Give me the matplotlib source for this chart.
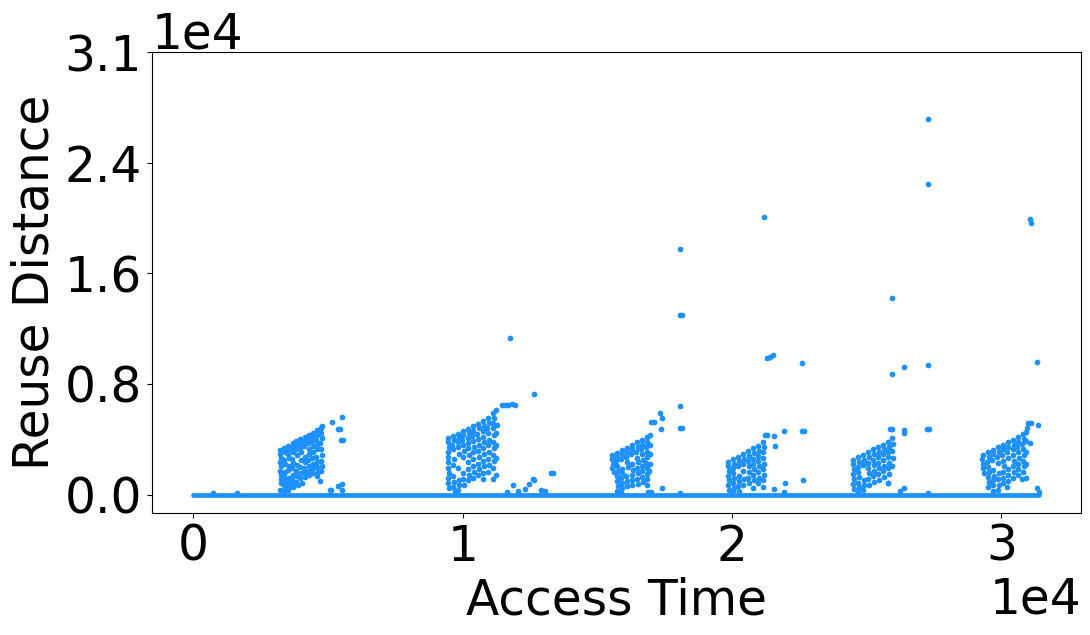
import numpy as np
import matplotlib
matplotlib.use("Agg")
import matplotlib.pyplot as plt
from matplotlib.ticker import ScalarFormatter

# Points: (access time, reuse distance)
# the long run of reuse distance ~0 along the whole trace
baseline_x = [0, 31400]
baseline_y = [0, 0]

# six dense "parallelogram" bursts
burst_1 = [
    (3230, 3150), (3210, 2870), (3240, 2600), (3220, 2300), (3250, 2000), (3230, 1700),
    (3260, 1400), (3240, 1100), (3270, 800), (3230, 300),
    (3380, 3320), (3400, 3050), (3370, 2450), (3410, 2150), (3390, 1600), (3360, 1300),
    (3420, 1000), (3380, 700), (3400, 420), (3350, 250),
    (3530, 3480), (3550, 3200), (3520, 2900), (3560, 2600), (3540, 2000), (3510, 1750),
    (3570, 1150), (3530, 850), (3550, 550), (3520, 300),
    (3690, 3650), (3670, 3350), (3700, 3050), (3660, 2500), (3710, 2250), (3680, 1900),
    (3700, 1400), (3670, 1100), (3690, 800), (3710, 500),
    (3830, 3800), (3850, 3500), (3810, 3200), (3840, 2800), (3860, 2100), (3820, 1700),
    (3850, 1350), (3830, 900), (3870, 650),
    (3980, 3950), (4000, 3650), (3960, 3300), (4010, 3000), (3990, 2450), (3970, 1950),
    (4000, 1500), (3980, 1150), (4020, 850),
    (4130, 4100), (4150, 3800), (4110, 3450), (4140, 2700), (4160, 2300), (4120, 1900),
    (4150, 1600), (4130, 1250),
    (4280, 4250), (4300, 3950), (4270, 3650), (4310, 3200), (4290, 2850), (4260, 2450),
    (4300, 2050), (4280, 1650), (4310, 1400),
    (4430, 4400), (4450, 4100), (4420, 3800), (4460, 3450), (4440, 3000), (4410, 2600),
    (4450, 2200), (4430, 1850), (4460, 1500),
    (4580, 4550), (4600, 4250), (4570, 3900), (4610, 3550), (4590, 3200), (4560, 2700),
    (4600, 2300), (4580, 1950), (4620, 1600), (4590, 1350),
    (4730, 4750), (4760, 4850), (4740, 4400), (4770, 4000), (4720, 3650), (4750, 3200),
    (4780, 2800), (4740, 2400), (4760, 2000), (4730, 1700), (4700, 950),
]
burst_2 = [
    (9460, 4000), (9440, 3700), (9480, 3400), (9450, 3050), (9470, 2700), (9440, 2300),
    (9460, 1900), (9490, 1500), (9450, 1150), (9470, 800), (9500, 450),
    (9640, 4150), (9660, 3850), (9620, 3500), (9650, 3200), (9670, 2500), (9630, 2100),
    (9650, 1300), (9680, 900), (9640, 550), (9700, 250),
    (9830, 4300), (9850, 4000), (9810, 3700), (9840, 3350), (9860, 2900), (9820, 1900),
    (9850, 1000), (9870, 650), (9830, 350),
    (10010, 4500), (10030, 4200), (9990, 3850), (10020, 3500), (10040, 3100), (10000, 2700),
    (10030, 1500), (10010, 1100), (10040, 700),
    (10200, 4650), (10220, 4350), (10180, 4000), (10210, 3650), (10190, 3300), (10230, 2800),
    (10200, 2300), (10180, 1800), (10220, 1400), (10200, 1000),
    (10380, 4850), (10400, 4500), (10360, 4150), (10390, 3800), (10410, 3400), (10370, 3000),
    (10400, 2500), (10380, 2000), (10410, 1600), (10390, 1200),
    (10570, 5000), (10590, 4700), (10550, 4300), (10580, 3950), (10600, 3550), (10560, 3100),
    (10590, 2700), (10570, 2200), (10600, 1800), (10580, 1400),
    (10760, 5200), (10780, 4850), (10740, 4500), (10770, 4100), (10790, 3700), (10750, 3300),
    (10780, 2900), (10760, 2400), (10790, 2000), (10750, 1500), (10770, 1100),
    (10940, 5450), (10960, 5100), (10920, 4750), (10950, 4350), (10970, 3900), (10930, 3500),
    (10960, 3000), (10940, 2500), (10970, 2100), (10930, 1600),
    (11130, 5800), (11150, 5450), (11110, 5100), (11140, 4700), (11160, 4200), (11120, 3750),
    (11150, 3300), (11130, 2800), (11160, 2400), (11140, 1900), (11120, 1100),
    (11240, 6000), (11260, 4950), (11230, 4400), (11250, 3500), (11240, 2600), (11220, 1400),
]
burst_3 = [
    (15550, 2800), (15530, 2500), (15570, 2200), (15540, 1900), (15600, 1600),
    (15720, 2950), (15740, 2650), (15700, 2350), (15730, 2000), (15750, 1650), (15710, 1300),
    (15740, 950), (15760, 600), (15720, 250),
    (15900, 3150), (15920, 2850), (15880, 2500), (15910, 1800), (15930, 1500), (15890, 1150),
    (15920, 800), (15900, 450), (15880, 150),
    (16090, 3300), (16110, 3000), (16070, 2650), (16100, 2300), (16120, 1950), (16080, 1300),
    (16110, 950), (16090, 600),
    (16280, 3500), (16300, 3200), (16260, 2850), (16290, 2150), (16310, 1750), (16270, 1400),
    (16300, 1050), (16280, 700),
    (16470, 3700), (16490, 3350), (16450, 3000), (16480, 2600), (16500, 2300), (16460, 1900),
    (16490, 1500), (16470, 1100), (16500, 750),
    (16650, 3850), (16670, 3550), (16630, 3200), (16660, 2850), (16680, 2450), (16640, 2050),
    (16670, 1650), (16650, 1250), (16680, 900),
    (16830, 4050), (16850, 3700), (16810, 3400), (16840, 3000), (16860, 2650), (16820, 2250),
    (16850, 1850), (16830, 1450), (16860, 1100), (16830, 700),
    (16950, 4250), (16940, 3500), (16960, 2900), (16950, 2200), (16930, 1700),
]
burst_4 = [
    (19860, 2300), (19840, 2000), (19880, 1700), (19850, 1350), (19870, 1000), (19840, 650),
    (19880, 300),
    (20040, 2500), (20060, 2200), (20020, 1850), (20050, 1500), (20070, 1150), (20030, 800),
    (20060, 450), (20040, 150),
    (20230, 2700), (20250, 2350), (20210, 2000), (20240, 1300), (20260, 950), (20220, 600),
    (20250, 250),
    (20410, 2900), (20430, 2550), (20390, 2150), (20420, 1700), (20440, 1100), (20400, 700),
    (20600, 3100), (20620, 2750), (20580, 2400), (20610, 2000), (20630, 1600), (20590, 1200),
    (20620, 800),
    (20780, 3300), (20800, 2950), (20760, 2550), (20790, 2200), (20810, 1800), (20770, 1400),
    (20800, 1000), (20780, 450),
    (20970, 3450), (20990, 3100), (20950, 2750), (20980, 2400), (21000, 2000), (20960, 1600),
    (20990, 1200), (20970, 850),
    (21150, 3750), (21170, 3350), (21130, 3000), (21160, 2600), (21180, 2200), (21140, 1800),
    (21170, 1400), (21150, 1000), (21160, 550),
]
burst_5 = [
    (24500, 2450), (24480, 2150), (24520, 1800), (24490, 1450), (24510, 1100), (24480, 750),
    (24520, 400),
    (24680, 2650), (24700, 2300), (24660, 1950), (24690, 1600), (24710, 1250), (24670, 850),
    (24700, 500), (24680, 200),
    (24870, 2800), (24890, 2450), (24850, 2100), (24880, 1050), (24900, 700), (24860, 350),
    (25050, 3000), (25070, 2650), (25030, 2250), (25060, 1900), (25080, 1500), (25040, 1100),
    (25070, 700),
    (25240, 3200), (25260, 2850), (25220, 2450), (25250, 2100), (25270, 1700), (25230, 1300),
    (25260, 900),
    (25420, 3350), (25440, 3000), (25400, 2650), (25430, 2250), (25450, 1850), (25410, 1450),
    (25440, 1050),
    (25610, 3550), (25630, 3200), (25590, 2850), (25620, 2450), (25640, 2050), (25600, 1650),
    (25630, 1250),
    (25790, 3750), (25810, 3400), (25770, 3050), (25800, 2650), (25820, 2250), (25780, 1850),
    (25810, 1450), (25790, 850),
    (25950, 4000), (25970, 3600), (25940, 3100), (25960, 2600), (25950, 2000),
]
burst_6 = [
    (29310, 2800), (29290, 2500), (29330, 2150), (29300, 1850), (29340, 1500),
    (29500, 3000), (29520, 2650), (29480, 2300), (29510, 1950), (29530, 1600), (29490, 1250),
    (29520, 900), (29500, 550),
    (29680, 3150), (29700, 2850), (29660, 2450), (29690, 1750), (29710, 1350), (29670, 1000),
    (29700, 650), (29680, 250),
    (29870, 3350), (29890, 3000), (29850, 2650), (29880, 2250), (29900, 1500), (29860, 1100),
    (29890, 700), (29870, 350),
    (30050, 3550), (30070, 3200), (30030, 2800), (30060, 2400), (30080, 2000), (30040, 1600),
    (30070, 1200), (30050, 800),
    (30240, 3700), (30260, 3350), (30220, 3000), (30250, 2600), (30230, 1800), (30260, 1400),
    (30240, 950), (30220, 500),
    (30430, 3900), (30450, 3550), (30410, 3200), (30440, 2800), (30460, 2400), (30420, 2000),
    (30450, 1600), (30430, 1200),
    (30610, 4100), (30630, 3750), (30590, 3400), (30620, 3000), (30640, 2600), (30600, 2200),
    (30630, 1800), (30610, 1400),
    (30800, 4300), (30820, 3950), (30780, 3600), (30810, 3200), (30830, 2800), (30790, 2400),
    (30820, 2000), (30800, 1600), (30780, 1100),
    (30910, 4450), (30930, 4700), (30900, 3800), (30920, 3000), (30910, 2200), (30900, 1200),
]

# sparse points outside the bursts
outliers = [
    (730, 120), (1620, 120),
    (5150, 5130), (5520, 5490), (5370, 4640), (5430, 4640), (5480, 3860), (5540, 3860),
    (5070, 300), (5130, 300), (5370, 590), (5520, 730), (5520, 300),
    (11460, 6340), (11580, 6380), (11700, 6350), (11820, 6400), (11940, 6360),
    (11760, 11100), (12650, 7120), (13280, 1520), (13340, 1520),
    (11870, 660), (12650, 1020), (12610, 1090), (12300, 400), (12050, 250), (12900, 350),
    (11650, 200), (13050, 250), (12450, 750),
    (18070, 17420), (18070, 12730), (18130, 12730), (18070, 6270), (18070, 4710),
    (18140, 4710), (17330, 5770), (17390, 5420), (16990, 5130), (17090, 5130),
    (17360, 4640), (17390, 450), (16880, 150), (17000, 180), (18070, 80),
    (21180, 19690), (21290, 9680), (21400, 9790), (21510, 9900), (22590, 9320),
    (21220, 4210), (21300, 4210), (21560, 4140), (21930, 4490), (22590, 4490),
    (22680, 4490), (21590, 3430), (21960, 800), (21560, 380), (21930, 200), (22630, 1010),
    (27270, 26650), (27270, 22030), (25940, 13940), (26380, 9040), (27270, 9190),
    (25940, 8540), (25860, 4640), (25930, 4640), (26380, 4570), (26380, 4400),
    (27230, 4640), (27310, 4640), (25790, 800), (26380, 450), (26250, 250), (27270, 100),
    (31050, 19550), (31080, 19300), (31320, 9410), (31000, 5060), (31100, 5060),
    (31350, 4920), (31050, 3640), (31320, 450), (31400, 150),
]

point_color = "#1E90FF"


class OneDecimalFormatter(ScalarFormatter):
    def _set_format(self):
        self.format = "%1.1f"


def make_plot():
    plt.rcParams["font.size"] = 35

    fig = plt.figure(figsize=(10.9, 6.35), dpi=100)
    ax = fig.add_axes([0.139, 0.1917, 0.8527, 0.726])

    ax.plot(baseline_x, baseline_y, color=point_color, linewidth=3.4, solid_capstyle="round")

    for pts in [burst_1, burst_2, burst_3, burst_4, burst_5, burst_6, outliers]:
        xs, ys = zip(*pts)
        ax.scatter(xs, ys, s=17, color=point_color, linewidths=0)

    ax.set_xlim(-1550, 32950)
    ax.set_ylim(-1330, 31400)

    ax.set_xticks([0, 10000, 20000, 30000])
    ax.set_yticks(np.linspace(0, 31400, 5))

    xfmt = ScalarFormatter()
    xfmt.set_powerlimits((0, 0))
    ax.xaxis.set_major_formatter(xfmt)
    yfmt = OneDecimalFormatter()
    yfmt.set_powerlimits((0, 0))
    ax.yaxis.set_major_formatter(yfmt)

    ax.set_xlabel("Access Time")
    ax.set_ylabel("Reuse Distance")

    fig.savefig("out.png", dpi=100)


if __name__ == "__main__":
    make_plot()
